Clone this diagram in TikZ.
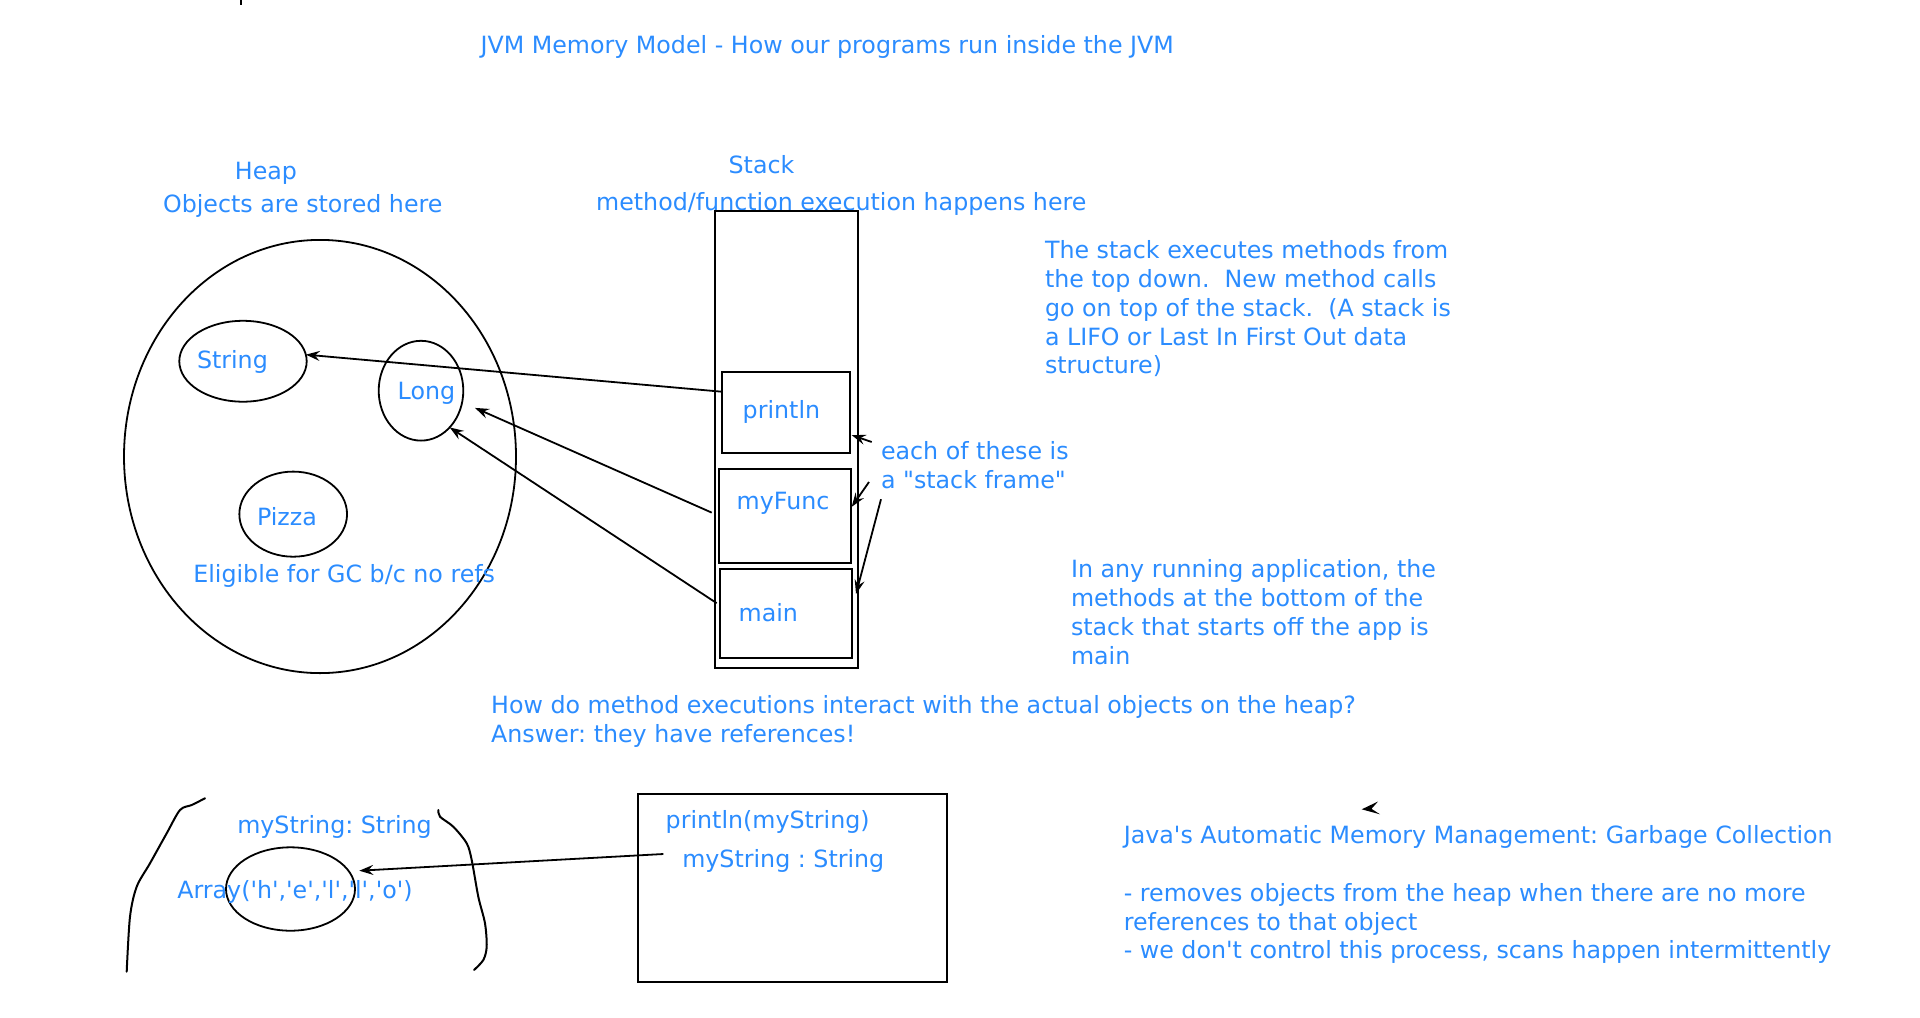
\documentclass[tikz,border=0pt]{standalone}
\usepackage{fontspec}
\setmainfont{DejaVu Sans}[Ligatures=TeXOff]
\usetikzlibrary{arrows.meta,calc,shapes.geometric}
\definecolor{ink}{RGB}{43,140,255}
\newcommand{\fl}{\rule{0pt}{9.5pt}}
\begin{document}
\begin{tikzpicture}[x=0.5pt,y=-0.5pt,
  txt/.style={text=ink,inner sep=0pt,outer sep=0pt,font=\fontsize{11.87pt}{14.4pt}\selectfont\frenchspacing},
  para/.style={txt,align=left,anchor=north west},
  frame/.style={draw,line width=1.1pt,rectangle,inner sep=0pt,outer sep=0pt},
  obj/.style={draw,line width=0.9pt,ellipse,inner sep=0pt,outer sep=0pt},
  ref/.style={draw,line width=0.9pt,-{Stealth[length=7pt,width=5pt,inset=2.5pt]}},
  hand/.style={line width=1pt,line cap=round,line join=round},
]
\useasboundingbox (0,0) rectangle (1920,1017);

% small tick at the top
\draw[line width=1pt] (240.7,0) -- (240.7,4.7);

% title
\node[txt,anchor=base west] (title) at (480.6,53.7) {JVM Memory Model - How our programs run inside the JVM};

% heap
\node[txt,anchor=base] (heapT) at (266,179.7) {Heap};
\node[txt,anchor=base] (heapS) at (302.8,212.4) {Objects are stored here};
\node[obj,minimum width=196pt,minimum height=216.6pt] (heap) at (320,456.5) {};
\node[obj,minimum width=63.7pt,minimum height=40.45pt] (strObj) at (243,361.25) {};
\node[obj,minimum width=42.3pt,minimum height=49.9pt] (longObj) at (421,390.7) {};
\node[obj,minimum width=53.85pt,minimum height=42.55pt] (pizzaObj) at (293.2,514.15) {};
\node[txt,anchor=base west] (strL) at (197,368.1) {String};
\node[txt,anchor=base west] (longL) at (397.7,399.1) {Long};
\node[txt,anchor=base west] (pizzaL) at (257,525.8) {Pizza};
\node[txt,anchor=base west] (gcL) at (193.3,582.6) {Eligible for GC b/c no refs};

% stack
\node[txt,anchor=base] (stackT) at (761.5,173.8) {Stack};
\node[txt,anchor=base] (stackS) at (841.3,210) {method/function execution happens here};
\node[frame,minimum width=71.5pt,minimum height=228.5pt] (stack) at (786.5,439.1) {};
\node[frame,minimum width=64.15pt,minimum height=40.3pt] (println) at (785.85,412.4) {};
\node[frame,minimum width=66.15pt,minimum height=46.85pt] (myFunc) at (784.85,515.75) {};
\node[frame,minimum width=66.3pt,minimum height=44.75pt] (main) at (786,613.55) {};
\node[txt,anchor=base west] (printlnL) at (742.7,418) {println};
\node[txt,anchor=base west] (myFuncL) at (736.7,509.6) {myFunc};
\node[txt,anchor=base west] (mainL) at (738.7,621.2) {main};

\node[para] (frames) at (881,440.7) {\fl each of these is\\a "stack frame"};

\node[para] (stackNote) at (1045,239.7) {\fl The stack executes methods from\\the top down.\ \ New method calls\\go on top of the stack.\ \ (A stack is\\a LIFO or Last In First Out data\\structure)};
\node[para] (mainNote) at (1071,558.7) {\fl In any running application, the\\methods at the bottom of the\\stack that starts off the app is\\main};

\node[para] (question) at (491.2,694.7) {\fl How do method executions interact with the actual objects on the heap?\\Answer: they have references!};

% references from stack frames to heap objects
\draw[ref] ($(println.north west)!0.243!(println.south west)$) -- (strObj.6.9);
\draw[ref] ($(myFunc.west)+(-7,-3.15)$) -- ($(longObj.center)+(54,17.2)$);
\draw[ref] ($(main.north west)!0.384!(main.south west)+(-3,0)$) -- (longObj.-52);

% arrows from the note to the frames
\draw[ref] ($(frames.north west)+(-9.3,1.3)$) -- ($(println.south east)+(1.7,-17.6)$);
\draw[ref] ($(frames.north west)+(-12,41.3)$) -- ($(myFunc.east)+(0.7,-8.95)$);
\draw[ref] ($(frames.north west)+(0,58.5)$) -- ($(main.east)+(3.7,-19.65)$);

% bottom sketch
\draw[hand] plot[smooth] coordinates {(205,798.3) (191.7,805) (180,810) (166.7,833.3) (150,863.3) (136.7,886.7) (130,916.7) (126.7,971.7)};
\draw[hand] plot[smooth] coordinates {(438.3,810) (440,816.7) (453.3,826.7) (466.7,843.3) (471.7,860) (478.3,896.7) (485,923.3) (486.7,946.7) (483.3,960) (474,970)};
\node[obj,minimum width=64.5pt,minimum height=41.7pt] (arrObj) at (290.5,889) {};
\node[txt,anchor=base west] (msL) at (237.3,833.7) {myString: String};
\node[txt,anchor=base west] (arrL) at (177.3,898.7) {Array('h','e','l','l','o')};

\node[frame,minimum width=154.2pt,minimum height=94.15pt] (pbox) at (792.5,888.15) {};
\node[txt,anchor=base west] (callL) at (665.7,828) {println(myString)};
\node[txt,anchor=base west] (argL) at (682.3,867) {myString : String};
\draw[ref] ($(argL.base west)+(-19,-13)$) -- ($(arrObj.center)+(68.8,-18.3)$);

% stray arrowhead
\fill (1361.7,809.3) -- (1378,801.5) -- (1371.5,808.8) -- (1380,814.3) -- cycle;

% garbage collection note
\node[para] (gcNote) at (1123.8,824.7) {\fl Java's Automatic Memory Management: Garbage Collection\\\mbox{}\\- removes objects from the heap when there are no more\\references to that object\\- we don't control this process, scans happen intermittently};
\end{tikzpicture}
\end{document}
